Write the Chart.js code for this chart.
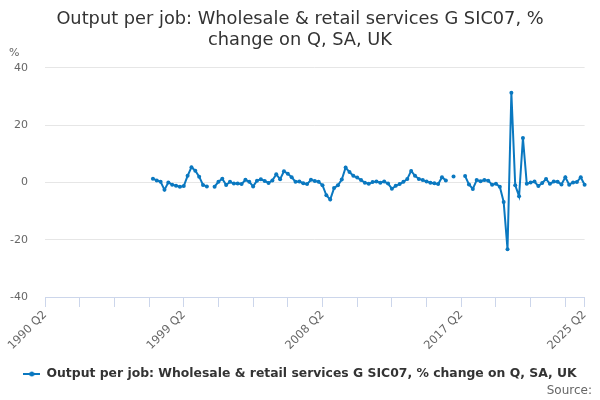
<!DOCTYPE html>
<html>
<head>
<meta charset="utf-8">
<script src="https://cdn.jsdelivr.net/npm/chart.js@4.4.1/dist/chart.umd.min.js"></script>
<style>
html,body{margin:0;padding:0;background:#fff;}
#wrap{width:600px;height:400px;}
</style>
</head>
<body>
<div id="wrap"><canvas id="c" width="600" height="400"></canvas></div>
<script>
// Quarterly categories: 1990 Q2 .. 2025 Q2
const startYear = 1990, startQuarter = 2, quarterCount = 141;
const categories = [];
for (let k = 0; k < quarterCount; k++) {
  const q = startQuarter - 1 + k;
  categories.push((startYear + Math.floor(q / 4)) + ' Q' + (q % 4 + 1));
}
const tickLabels = ['1990 Q2', '1999 Q2', '2008 Q2', '2017 Q2', '2025 Q2'];
const seriesName = 'Output per job: Wholesale & retail services G SIC07, % change on Q, SA, UK';
const titleLines = ['Output per job: Wholesale & retail services G SIC07, %', 'change on Q, SA, UK'];
const yTicks = [-40, -20, 0, 20, 40];

const values = [
  // 1990 Q2 - 1997 Q1 (no data)
  null,null,null,null,null,null,null,null,null,null,null,null,null,null,
  null,null,null,null,null,null,null,null,null,null,null,null,null,null,
  // 1997 Q2 - 2000 Q4
  1.3, 0.7, 0.2, -2.6, 0.0, -0.8, -1.2, -1.5, -1.3, 2.3, 5.3, 4.1, 2.0, -0.9, -1.4,
  // 2001 Q1 (gap)
  null,
  // 2001 Q2 - 2006 Q4
  -1.5, 0.2, 1.3, -0.9, 0.2, -0.4, -0.4, -0.6, 0.9, 0.2, -1.4, 0.6, 1.1, 0.5, -0.2, 0.7,
  2.8, 1.1, 3.9, 3.0, 1.8, 0.2, 0.3,
  // 2007 Q1 - 2016 Q2
  -0.3, -0.6, 0.9, 0.5, 0.2, -1.0, -4.5, -6.0, -2.0, -1.0, 1.0, 5.2, 3.6, 2.3, 1.7, 0.8,
  -0.1, -0.5, 0.1, 0.3, -0.1, 0.3, -0.4, -2.2, -1.2, -0.6, 0.2, 1.2, 4.0, 2.3, 1.2, 0.8,
  0.3, -0.1, -0.3, -0.6, 1.8, 0.7,
  // 2016 Q3 - 2017 Q2
  null, 2.1, null, null,
  // 2017 Q3 - 2025 Q2
  2.2, -0.7, -2.3, 0.8, 0.4, 0.8, 0.6, -0.8, -0.5, -1.5, -6.8, -23.3, 31.3, -1.0, -4.8, 15.5,
  -0.5, 0.0, 0.3, -1.3, -0.2, 1.2, -0.5, 0.3, 0.2, -0.7, 1.8, -0.8, 0.0, 0.1, 1.8, -0.8
];

const lineColor = '#0a78c0';
const FONT = "'DejaVu Sans', sans-serif";

// legend symbol: short line with a dot
const sym = document.createElement('canvas');
sym.width = 17; sym.height = 8;
(function(){
  const g = sym.getContext('2d');
  g.strokeStyle = lineColor; g.lineWidth = 2;
  g.beginPath(); g.moveTo(0, 4); g.lineTo(17, 4); g.stroke();
  g.fillStyle = lineColor; g.beginPath(); g.arc(8.5, 4, 2.5, 0, Math.PI * 2); g.fill();
})();

const unitLabel = {
  id: 'unitLabel',
  afterDraw(chart) {
    const ctx = chart.ctx;
    ctx.save();
    ctx.font = '11px ' + FONT;
    ctx.fillStyle = '#666';
    ctx.textAlign = 'left';
    ctx.textBaseline = 'middle';
    ctx.fillText('%', 9, chart.chartArea.top - 15);
    ctx.restore();
  }
};

new Chart(document.getElementById('c'), {
  type: 'line',
  data: {
    labels: categories,
    datasets: [{
      label: seriesName,
      data: values,
      borderColor: lineColor,
      backgroundColor: lineColor,
      borderWidth: 2,
      pointRadius: 2,
      pointHoverRadius: 3,
      pointBorderWidth: 0,
      spanGaps: false,
      tension: 0
    }]
  },
  options: {
    responsive: false,
    animation: false,
    devicePixelRatio: 1,
    layout: { padding: { left: 8, right: 8, top: 2, bottom: 0 } },
    plugins: {
      title: {
        display: true,
        text: titleLines,
        color: '#333',
        font: { family: FONT, size: 17.8, weight: 'normal', lineHeight: 1.23 },
        padding: { top: 6, bottom: 16 }
      },
      subtitle: {
        display: true,
        text: 'Source:',
        position: 'bottom',
        align: 'end',
        color: '#666',
        font: { family: FONT, size: 12, weight: 'normal' },
        padding: { top: -6.6, bottom: 2 }
      },
      legend: {
        position: 'bottom',
        labels: {
          usePointStyle: true,
          pointStyle: sym,
          pointStyleWidth: 17,
          color: '#333',
          font: { family: FONT, size: 12.4, weight: 'bold' },
          padding: 2
        }
      },
      tooltip: { enabled: false }
    },
    scales: {
      x: {
        type: 'category',
        offset: false,
        grid: { drawOnChartArea: false, drawTicks: true, tickLength: 10, color: '#ccd6eb' },
        border: { color: '#ccd6eb' },
        afterBuildTicks(scale) {
          scale.ticks = scale.ticks.filter(t => t.value % 9 === 0 || t.value === quarterCount - 1);
        },
        afterFit(scale) {
          scale.paddingLeft = 0;
          scale.paddingRight = 0;
          scale.height = 68.8;
        },
        ticks: {
          autoSkip: false,
          maxRotation: 45,
          minRotation: 45,
          color: '#666',
          font: { family: FONT, size: 11.5 },
          padding: 1,
          callback(value) {
            const lab = categories[value];
            return tickLabels.includes(lab) ? lab : '';
          }
        }
      },
      y: {
        min: yTicks[0],
        max: yTicks[yTicks.length - 1],
        afterBuildTicks(scale) {
          scale.ticks = yTicks.map(v => ({ value: v }));
        },
        afterFit(scale) {
          scale.width = 37;
        },
        grid: { color: '#e6e6e6', drawTicks: false },
        border: { display: false },
        ticks: {
          color: '#666',
          font: { family: FONT, size: 11 },
          padding: 17
        }
      },
      yRightSpacer: {
        position: 'right',
        display: true,
        grid: { display: false, drawTicks: false },
        border: { display: false },
        ticks: { display: false },
        afterFit(scale) {
          scale.width = 7.4;
        }
      }
    }
  },
  plugins: [unitLabel]
});
</script>
</body>
</html>
